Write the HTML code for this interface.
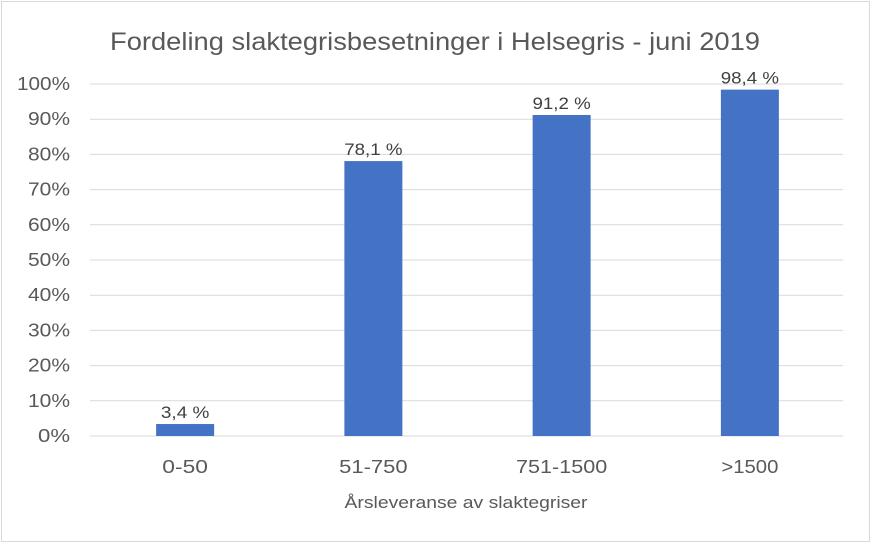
<!DOCTYPE html>
<html><head><meta charset="utf-8"><style>
html,body{margin:0;padding:0;background:#fff;}
svg{display:block;font-family:"Liberation Sans",sans-serif;}
</style></head><body>
<svg id="chart" width="872" height="544">
<rect x="1.5" y="1.5" width="868" height="540" fill="#fff" stroke="#d9d9d9"/>
<text x="435" y="50" text-anchor="middle" font-size="25" fill="#595959" textLength="650" lengthAdjust="spacingAndGlyphs">Fordeling slaktegrisbesetninger i Helsegris - juni 2019</text>
<g id="grid"></g><g id="bars"></g>
<text x="466" y="508" text-anchor="middle" font-size="17" fill="#595959" textLength="243" lengthAdjust="spacingAndGlyphs">Årsleveranse  av slaktegriser</text>
</svg>
<script>
const categories=["0-50","51-750","751-1500",">1500"];
const values=[3.4,78.1,91.2,98.4];
const valueLabels=["3,4 %","78,1 %","91,2 %","98,4 %"];
const yTicks=[0,10,20,30,40,50,60,70,80,90,100];
const NS="http://www.w3.org/2000/svg";
const x0=90,x1=843,y0=436,y100=84,bw=58;
const y=v=>y0-(y0-y100)*v/100;
const band=(x1-x0)/categories.length;
const cx=i=>x0+band*(i+0.5)+1;
const grid=document.getElementById('grid'),bars=document.getElementById('bars');
function mk(t,a,p){const e=document.createElementNS(NS,t);for(const k in a)e.setAttribute(k,a[k]);p.appendChild(e);return e;}
function fit(t,w){t.setAttribute('textLength',w);t.setAttribute('lengthAdjust','spacingAndGlyphs');}
yTicks.forEach(v=>{
 const l=mk('line',{x1:x0,x2:x1,y1:y(v),y2:y(v),stroke:'#d9d9d9','stroke-width':1},grid);
 
 
 const t=mk('text',{x:70,y:y(v)+6,'text-anchor':'end','font-size':18,fill:'#595959'},grid);
 t.textContent=v+'%';
 fit(t,(v===100?53:v===0?32:42));
 
 
});
categories.forEach((c,i)=>{
 const r=mk('rect',{x:cx(i)-bw/2,y:y(values[i]),width:bw,height:y0-y(values[i]),fill:'#4472c4'},bars);
 
 
 const t=mk('text',{x:cx(i),y:y(values[i])-6,'text-anchor':'middle','font-size':17,fill:'#404040'},bars);
 t.textContent=valueLabels[i];
 fit(t,valueLabels[i].length*9.7);
 
 
 const xl=mk('text',{x:cx(i),y:473,'text-anchor':'middle','font-size':18,fill:'#595959'},bars);
 xl.textContent=c;
 fit(xl,c.length*11.4);
 
 
});
</script>
</body></html>
